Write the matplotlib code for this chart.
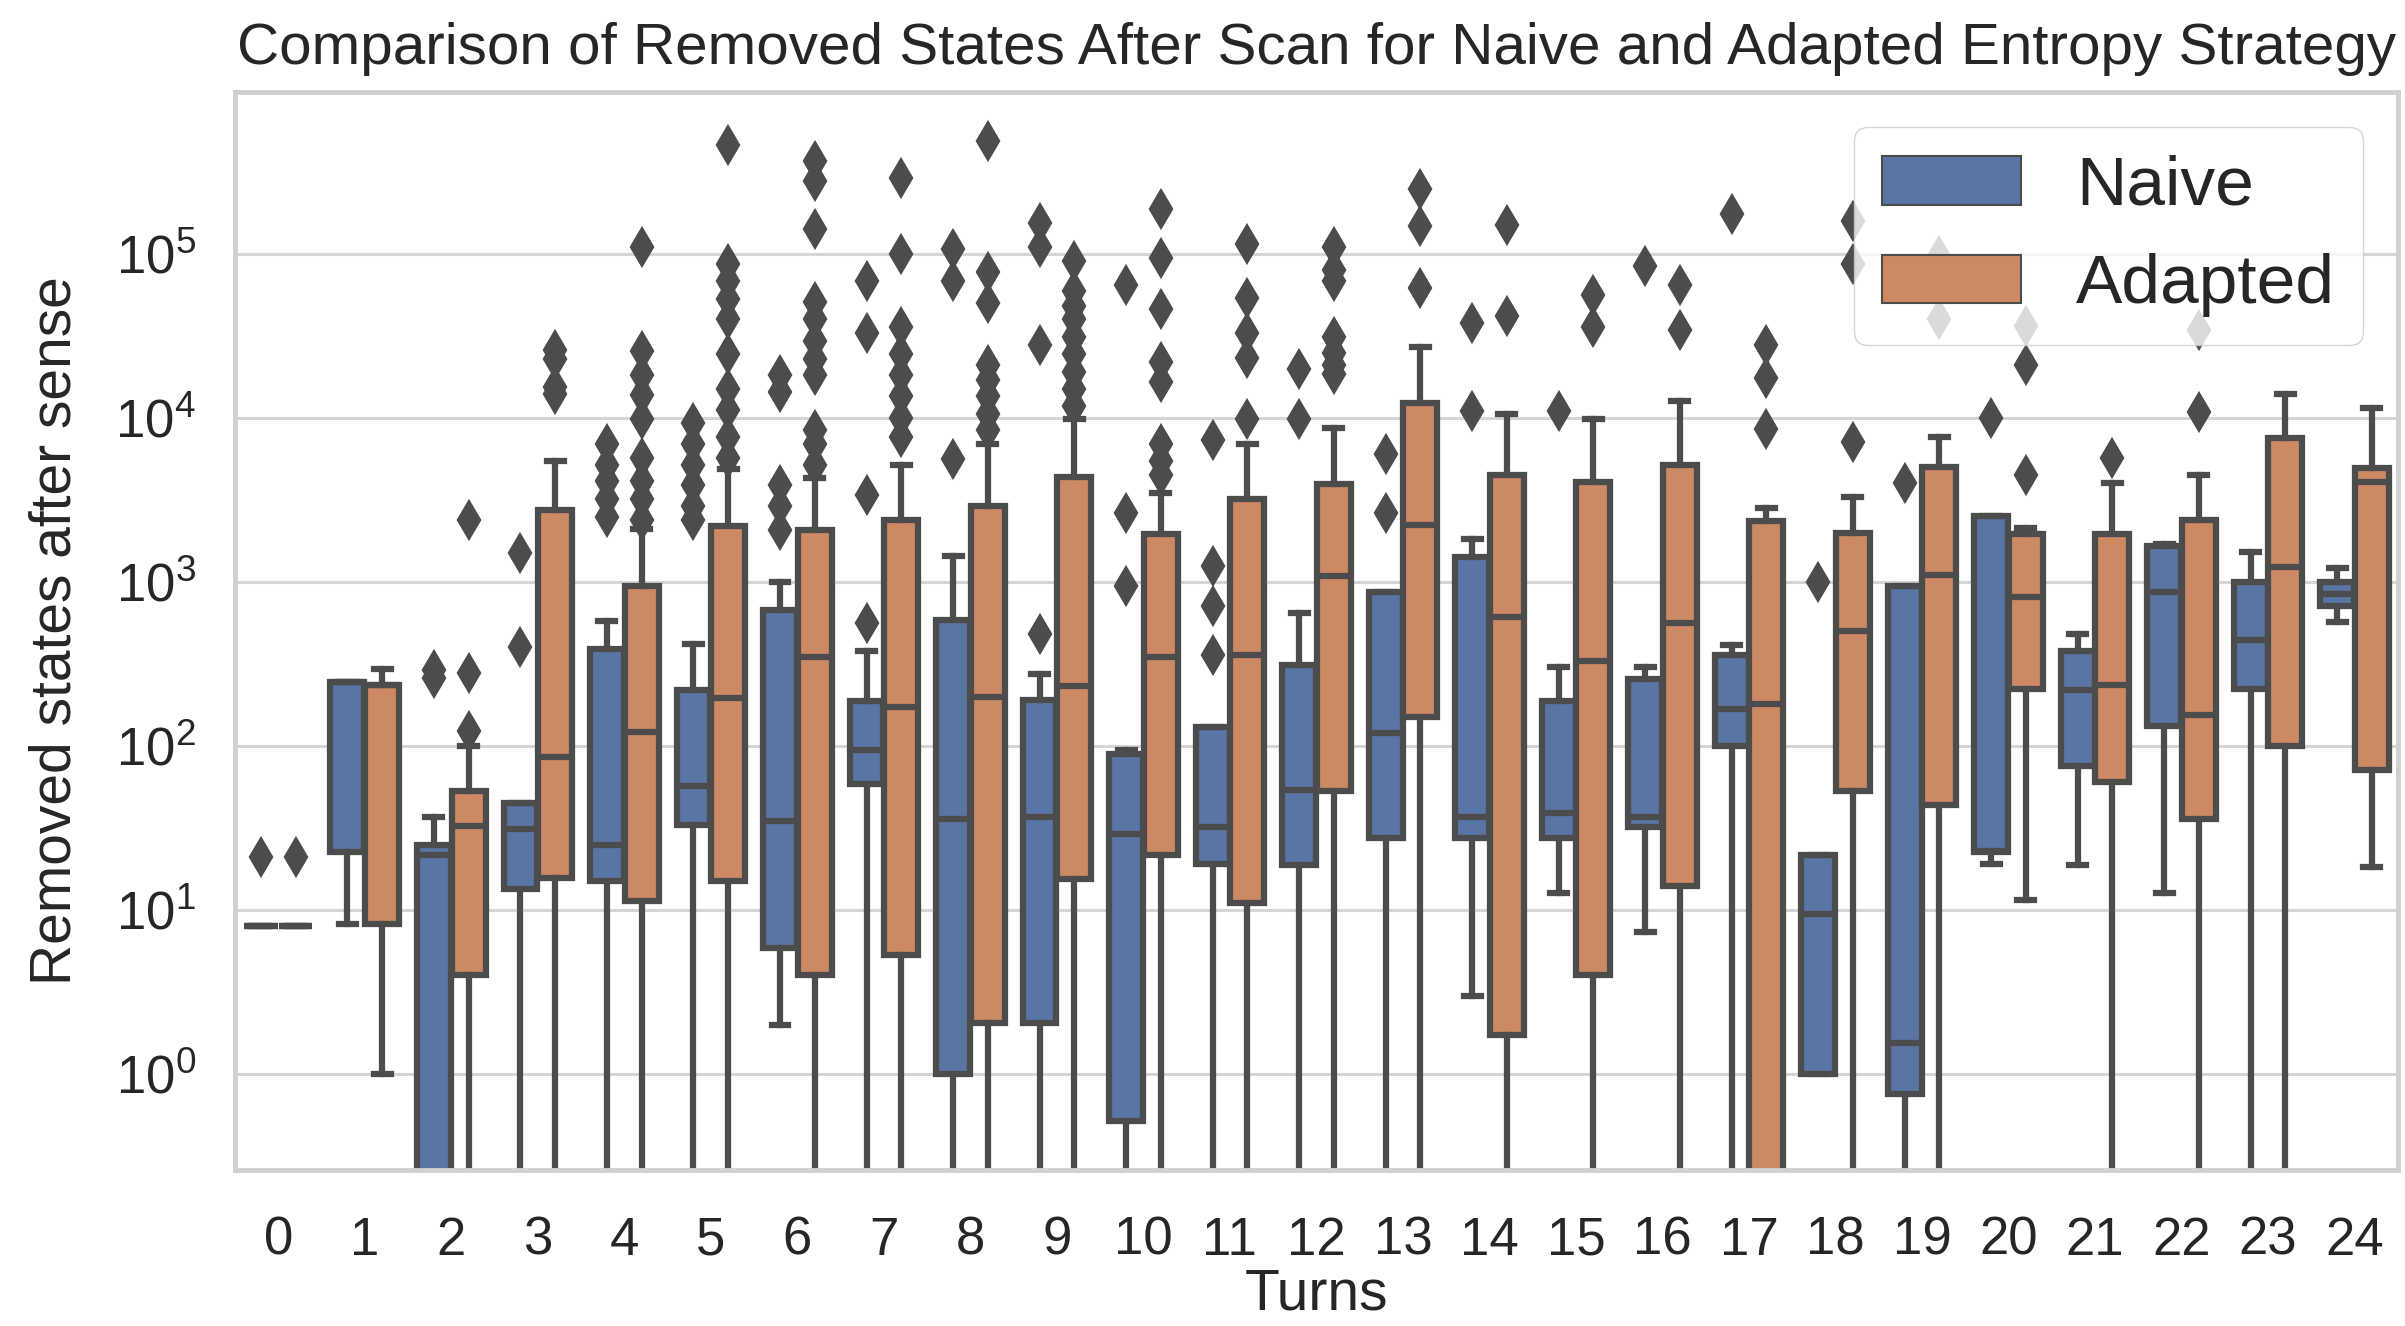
import matplotlib
matplotlib.use("Agg")
import matplotlib.pyplot as plt
from matplotlib.patches import Rectangle

turns = list(range(25))
hue_names = ["Naive", "Adapted"]
y_decades = [1, 10, 100, 1000, 10000, 100000]

## box statistics read per turn (q1, median, q3, whisker low, whisker high, outliers)
## 0 means the value sits at zero and falls below the log axis
naive_q1 = [8, 22.7, 0, 13.5, 15, 33, 5.9, 59, 1.0, 2.05, 0.52, 19, 18.7, 27.6, 27.6, 27.6,
            32, 100, 1.0, 0.76, 22.7, 76, 133, 223, 710]
naive_med = [8, 245, 21.6, 31, 25, 57, 35, 95, 36, 37, 29, 32, 54, 120, 37, 39,
             37, 169, 9.5, 1.55, 23, 218, 870, 440, 840]
naive_q3 = [8, 245, 25, 45, 390, 220, 675, 188, 585, 192, 89, 130, 310, 870, 1410, 187,
            257, 360, 21.6, 950, 2510, 380, 1650, 1000, 1000]
naive_lo = [8, 8.2, 0, 0, 0, 0, 2.0, 0, 0, 0, 0, 0, 0, 0, 3.0, 12.7,
            7.4, 0, 1.0, 0, 19, 18.7, 12.7, 0, 570]
naive_hi = [8, 245, 37, 45, 580, 420, 1000, 380, 1430, 275, 94, 130, 645, 870, 1830, 305,
            305, 415, 21.6, 950, 2510, 480, 1700, 1520, 1210]
naive_fliers = [
    [21], [], [260, 290], [400, 1500],
    [2500, 3200, 4100, 5200, 6900],
    [2400, 2900, 3900, 5200, 6900, 9300],
    [2070, 2900, 3900, 14400, 18200],
    [560, 3370, 33000, 68000],
    [5600, 68000, 107000],
    [480, 28000, 110000, 155000],
    [950, 2640, 65000],
    [360, 710, 1260, 7300],
    [9800, 20000],
    [2630, 6000],
    [11000, 38000],
    [11000],
    [84000],
    [174000],
    [1000],
    [4000],
    [10000],
    [], [], [], [],
]

adapted_q1 = [8, 8.2, 4.0, 15.7, 11.4, 15, 4.0, 5.3, 2.05, 15.4, 21.6, 11, 53, 150, 1.74, 4.0,
              14, 0, 53, 43.5, 223, 60, 36, 100, 71]
adapted_med = [8, 234, 32.5, 86, 122, 196, 348, 174, 200, 233, 350, 360, 1080, 2210, 615, 330,
               560, 180, 505, 1100, 810, 237, 155, 1240, 4070]
adapted_q3 = [8, 234, 53, 2760, 950, 2200, 2080, 2400, 2900, 4370, 1970, 3200, 3960, 12400, 4470, 4060,
              5200, 2340, 2000, 5000, 1960, 1960, 2400, 7500, 4950]
adapted_lo = [8, 1.0, 0, 0, 0, 0, 0, 0, 0, 0, 0, 0, 0, 0, 0, 0,
              0, 0, 0, 0, 11.5, 0, 0, 0, 18.2]
adapted_hi = [8, 295, 100, 5500, 2100, 4900, 4300, 5200, 6900, 9800, 3470, 6900, 8700, 27000, 10500, 9800,
              12600, 2830, 3300, 7600, 2130, 4000, 4500, 14000, 11500]
adapted_fliers = [
    [21], [], [124, 277, 2390],
    [14000, 15500, 23000, 26000],
    [2400, 3200, 4100, 5700, 9800, 13800, 18200, 25700, 110000],
    [5700, 7600, 11200, 15000, 24500, 40000, 53000, 68000, 87000, 460000],
    [5200, 6900, 8500, 18200, 23000, 29600, 40000, 51000, 141000, 278000, 370000],
    [7600, 10000, 13600, 18200, 24500, 36000, 100000, 290000],
    [8400, 10500, 13700, 17000, 21000, 50000, 78000, 490000],
    [11800, 15000, 19000, 24500, 31000, 40000, 48000, 59000, 91000],
    [4500, 5500, 6900, 16600, 22000, 46000, 95000, 187000],
    [9800, 23300, 33000, 54000, 115000],
    [18500, 21000, 25000, 31000, 68000, 80000, 110000],
    [62000, 148000, 250000],
    [42000, 151000],
    [36000, 56000],
    [34500, 65000],
    [8600, 17500, 28000],
    [7100, 87000, 158000],
    [40000, 97000],
    [4500, 21000, 36500],
    [5700],
    [10800, 34500],
    [], [],
]

colors = ["#5875A3", "#CC8963"]
gray = "#4C4C4C"
text_col = "#262626"

plt.rcParams["font.family"] = ["Liberation Sans", "DejaVu Sans"]
plt.rcParams["mathtext.fontset"] = "custom"
plt.rcParams["mathtext.rm"] = "Liberation Sans"
plt.rcParams["mathtext.it"] = "Liberation Sans:italic"
plt.rcParams["mathtext.bf"] = "Liberation Sans:bold"

fig = plt.figure(figsize=(24.05, 13.26), dpi=100)
ax = fig.add_axes([0.0977, 0.1176, 0.8993, 0.813])

groups = [
    (naive_q1, naive_med, naive_q3, naive_lo, naive_hi, naive_fliers),
    (adapted_q1, adapted_med, adapted_q3, adapted_lo, adapted_hi, adapted_fliers),
]
lw = 4.5
for h, (q1, med, q3, lo, hi, fl) in enumerate(groups):
    stats = []
    for i in range(len(turns)):
        stats.append(dict(q1=q1[i], med=med[i], q3=q3[i], whislo=lo[i], whishi=hi[i], fliers=fl[i]))
    pos = [t - 0.2 + 0.4 * h for t in turns]
    ax.bxp(stats, positions=pos, widths=0.392, patch_artist=True, manage_ticks=False,
           boxprops=dict(facecolor=colors[h], edgecolor=gray, linewidth=lw),
           medianprops=dict(color=gray, linewidth=lw),
           whiskerprops=dict(color=gray, linewidth=lw),
           capprops=dict(color=gray, linewidth=lw),
           flierprops=dict(marker="d", markerfacecolor=gray, markeredgecolor=gray,
                           markersize=17, markeredgewidth=3))

ax.set_yscale("log")
ax.set_yticks(y_decades)
ax.yaxis.set_minor_locator(matplotlib.ticker.NullLocator())
ax.set_ylim(0.26, 9.7e5)
ax.set_xlim(-0.5, 24.5)
ax.set_xticks(turns)
ax.set_xticklabels([str(t) for t in turns])

ax.set_axisbelow(True)
ax.yaxis.grid(True, color="#d5d5d5", linewidth=2.2)
ax.xaxis.grid(False)
ax.tick_params(axis="both", length=0, labelsize=38, colors=text_col)
ax.tick_params(axis="x", pad=33)
ax.tick_params(axis="y", pad=28)
for s in ax.spines.values():
    s.set_color("#d0d0d0")
    s.set_linewidth(3.5)

ax.set_xlabel("Turns", fontsize=41, color=text_col, labelpad=1)
ax.set_ylabel("Removed states after sense", fontsize=41, color=text_col, labelpad=24)
ax.set_title("Comparison of Removed States After Scan for Naive and Adapted Entropy Strategy",
             fontsize=42, color=text_col, pad=20)

handles = [Rectangle((0, 0), 1, 1, facecolor=colors[k], edgecolor=gray, linewidth=1.5) for k in range(2)]
leg = ax.legend(handles, hue_names, loc="upper right", fontsize=50, framealpha=0.8,
                edgecolor="#cccccc", fancybox=True)
for t in leg.get_texts():
    t.set_color(text_col)

fig.savefig("out.png", dpi=100)
